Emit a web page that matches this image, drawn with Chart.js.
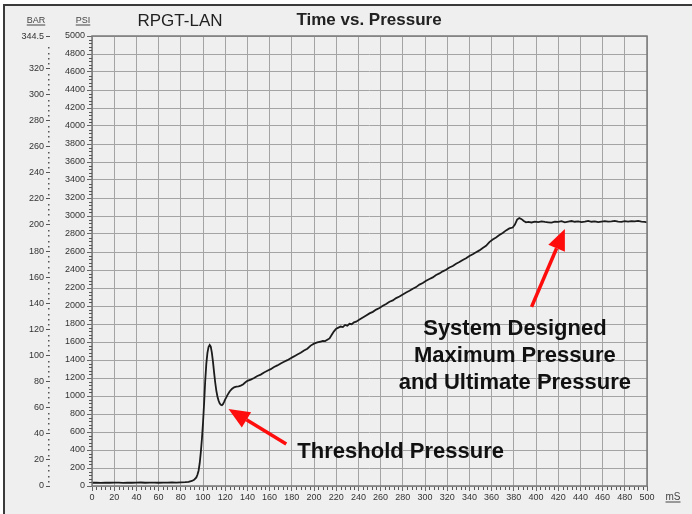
<!DOCTYPE html>
<html>
<head>
<meta charset="UTF-8">
<title>Time vs. Pressure</title>
<script src="https://cdn.jsdelivr.net/npm/chart.js@4/dist/chart.umd.min.js"></script>
<style>
  html, body { margin: 0; padding: 0; background: #ffffff; }
  #wrap { width: 692px; height: 514px; }
</style>
</head>
<body>
<div id="wrap"><canvas id="chart" width="692" height="514"></canvas></div>
<script>
const timeMs = [
  0, 4, 8, 12, 16, 20, 24, 28, 32, 36, 40, 44, 48, 52, 56, 60, 64, 68, 72, 76,
  80, 84, 87, 90, 92, 94, 95, 96, 97, 98, 99, 100, 101, 102, 103, 104, 105, 106, 107, 108,
  109, 110, 111, 112, 113, 114, 115, 116, 117, 118, 119, 120, 121, 122, 124, 126, 128, 130, 132, 134,
  136, 138, 140, 143, 146, 149, 152, 155, 158, 161, 164, 167, 170, 173, 176, 179, 182, 185, 188, 191,
  194, 197, 200, 203, 206, 208, 210, 212, 214, 216, 218, 220, 222, 224, 226, 228, 230, 232, 234, 236,
  238, 241, 244, 247, 250, 253, 256, 259, 262, 265, 268, 271, 274, 277, 280, 283, 286, 289, 292, 295,
  298, 301, 304, 307, 310, 313, 316, 319, 322, 325, 328, 331, 334, 337, 340, 343, 346, 349, 352, 355,
  358, 361, 364, 367, 370, 373, 376, 379, 381, 383, 385, 387, 389, 391, 393, 396, 399, 402, 405, 408,
  411, 414, 417, 420, 423, 426, 429, 432, 435, 438, 441, 444, 447, 450, 453, 456, 459, 462, 465, 468,
  471, 474, 477, 480, 483, 486, 489, 492, 495, 498, 500
];
const pressurePsi = [
  36, 38, 35, 37, 36, 38, 37, 35, 38, 36, 37, 39, 36, 37, 38, 36, 38, 37, 39, 38,
  40, 43, 47, 56, 68, 95, 125, 170, 250, 370, 520, 700, 920, 1170, 1360, 1480, 1545, 1567, 1548, 1480,
  1380, 1260, 1150, 1060, 995, 950, 918, 902, 898, 910, 935, 962, 985, 1010, 1050, 1078, 1096, 1104, 1108, 1115,
  1128, 1150, 1168, 1182, 1200, 1222, 1238, 1262, 1280, 1298, 1322, 1340, 1362, 1380, 1398, 1420, 1440, 1462, 1480, 1505,
  1525, 1560, 1582, 1595, 1605, 1612, 1610, 1625, 1640, 1680, 1718, 1748, 1760, 1772, 1766, 1790, 1782, 1802, 1798, 1818,
  1826, 1850, 1872, 1895, 1918, 1935, 1960, 1978, 2002, 2022, 2048, 2062, 2088, 2105, 2128, 2150, 2170, 2192, 2210, 2238,
  2255, 2280, 2300, 2318, 2345, 2362, 2385, 2402, 2428, 2445, 2470, 2488, 2512, 2530, 2555, 2575, 2598, 2618, 2645, 2668,
  2710, 2738, 2762, 2788, 2812, 2840, 2862, 2872, 2905, 2960, 2978, 2965, 2945, 2930, 2935, 2928, 2938, 2932, 2940, 2934,
  2930, 2926, 2938, 2935, 2942, 2930, 2938, 2944, 2936, 2940, 2933, 2938, 2945, 2936, 2940, 2932, 2938, 2944, 2937, 2940,
  2946, 2938, 2935, 2942, 2938, 2944, 2940, 2946, 2938, 2935, 2928
];

// 軸の設定値
const xRangeMs = [0, 500];
const psiRange = [0, 5000];
const barTicks = [0, 20, 40, 60, 80, 100, 120, 140, 160, 180, 200, 220, 240, 260, 280, 300, 320, 344.5];
const psiPerBar = 14.5038;

// 注記（データ座標）
const thresholdArrow = { from: [175, 467], to: [123, 856] };
const designArrow = { from: [396, 1990], to: [426, 2856] };
const thresholdLabel = { text: "Threshold Pressure", at: [185, 378] };
const designLabel = {
  lines: ["System Designed", "Maximum Pressure", "and Ultimate Pressure"],
  at: [381, 1744],
  lineGap: 27,
};

const FONT = 'Arial, "Liberation Sans", sans-serif';
const TICK_COLOR = "#333";

// 矢印を描く
function drawArrow(ctx, x1, y1, x2, y2) {
  const ang = Math.atan2(y2 - y1, x2 - x1);
  const headLen = 21;
  const headHalf = 9;
  const bx = x2 - headLen * Math.cos(ang);
  const by = y2 - headLen * Math.sin(ang);
  ctx.save();
  ctx.strokeStyle = "#ff0d0d";
  ctx.fillStyle = "#ff0d0d";
  ctx.lineWidth = 3.5;
  ctx.beginPath();
  ctx.moveTo(x1, y1);
  ctx.lineTo(bx, by);
  ctx.stroke();
  ctx.beginPath();
  ctx.moveTo(x2, y2);
  ctx.lineTo(bx + headHalf * Math.sin(ang), by - headHalf * Math.cos(ang));
  ctx.lineTo(bx - headHalf * Math.sin(ang), by + headHalf * Math.cos(ang));
  ctx.closePath();
  ctx.fill();
  ctx.restore();
}

function underlinedText(ctx, text, cx, y, font) {
  ctx.font = font;
  ctx.textAlign = "center";
  ctx.textBaseline = "alphabetic";
  ctx.fillText(text, cx, y);
  const w = ctx.measureText(text).width;
  ctx.fillRect(cx - w / 2, y + 1.5, w, 1);
}

// 背景・枠
const framePlugin = {
  id: "frame",
  beforeDraw(chart) {
    const ctx = chart.ctx;
    ctx.save();
    ctx.fillStyle = "#ffffff";
    ctx.fillRect(0, 0, chart.width, chart.height);
    ctx.fillStyle = "#efefef";
    ctx.fillRect(5, 6, chart.width - 5, chart.height - 6);
    ctx.fillStyle = "#3a3a3a";
    ctx.fillRect(3, 4, 2, chart.height - 4);
    ctx.fillRect(3, 4, chart.width - 3, 2);
    ctx.restore();
  },
  afterDatasetsDraw(chart) {
    const ctx = chart.ctx;
    const a = chart.chartArea;
    const xs = chart.scales.x;
    const ys = chart.scales.y;
    const bs = chart.scales.bar;
    ctx.save();
    ctx.strokeStyle = "#7a7a7a";
    ctx.lineWidth = 1.5;
    ctx.strokeRect(a.left, a.top, a.right - a.left, a.bottom - a.top);

    // 補助目盛
    ctx.fillStyle = "#555";
    for (let v = xRangeMs[0]; v <= xRangeMs[1]; v += 4) {
      if (v % 20 === 0) continue;
      const px = Math.round(xs.getPixelForValue(v));
      ctx.fillRect(px, a.bottom + 1, 1, 3);
    }
    for (let v = psiRange[0]; v <= psiRange[1]; v += 40) {
      if (v % 200 === 0) continue;
      const py = Math.round(ys.getPixelForValue(v));
      ctx.fillRect(a.left - 3, py, 3, 1);
    }
    for (let v = 4; v < 344; v += 4) {
      if (v % 20 === 0) continue;
      const py = Math.round(bs.getPixelForValue(v));
      ctx.fillRect(bs.right - 2, py, 1.5, 1.5);
    }

    // 注記
    const p = (pt) => [xs.getPixelForValue(pt[0]), ys.getPixelForValue(pt[1])];
    let f = p(thresholdArrow.from), t = p(thresholdArrow.to);
    drawArrow(ctx, f[0], f[1], t[0], t[1]);
    f = p(designArrow.from); t = p(designArrow.to);
    drawArrow(ctx, f[0], f[1], t[0], t[1]);

    ctx.fillStyle = "#111";
    ctx.font = "bold 22px " + FONT;
    ctx.textBaseline = "middle";
    ctx.textAlign = "left";
    const tl = p(thresholdLabel.at);
    ctx.fillText(thresholdLabel.text, tl[0], tl[1]);
    ctx.textAlign = "center";
    const dl = p(designLabel.at);
    designLabel.lines.forEach((line, i) => {
      ctx.fillText(line, dl[0], dl[1] + i * designLabel.lineGap);
    });

    // 見出し
    ctx.fillStyle = "#222";
    ctx.textBaseline = "alphabetic";
    ctx.font = "17px " + FONT;
    ctx.fillText("RPGT-LAN", 180, 26);
    ctx.font = "bold 17px " + FONT;
    ctx.fillText("Time vs. Pressure", 369, 25);
    ctx.fillStyle = "#444";
    underlinedText(ctx, "BAR", 36, 23, "9px " + FONT);
    underlinedText(ctx, "PSI", 83, 23, "9px " + FONT);
    underlinedText(ctx, "mS", 673, 500, "10px " + FONT);
    ctx.restore();
  },
};

const ctx = document.getElementById("chart").getContext("2d");
const chart = new Chart(ctx, {
  type: "line",
  data: {
    datasets: [
      {
        label: "Pressure",
        data: timeMs.map((t, i) => ({ x: t, y: pressurePsi[i] })),
        borderColor: "#1c1c1c",
        borderWidth: 1.8,
        pointRadius: 0,
        tension: 0,
        fill: false,
      },
    ],
  },
  options: {
    responsive: false,
    animation: false,
    devicePixelRatio: 1,
    layout: {
      padding: { top: 36, right: 45, bottom: 0, left: 0 },
    },
    plugins: {
      legend: { display: false },
      tooltip: { enabled: false },
    },
    scales: {
      x: {
        type: "linear",
        min: xRangeMs[0],
        max: xRangeMs[1],
        afterFit: (s) => { s.height = 28; },
        ticks: {
          stepSize: 20,
          autoSkip: false,
          maxRotation: 0,
          padding: 1,
          color: TICK_COLOR,
          font: { family: FONT, size: 9 },
          callback: (v) => String(v),
        },
        grid: { color: "#a4a4a4", lineWidth: 1, tickLength: 5, tickColor: "#666" },
        border: { display: false },
      },
      y: {
        type: "linear",
        position: "left",
        weight: 0,
        min: psiRange[0],
        max: psiRange[1],
        afterFit: (s) => { s.width = 42; },
        ticks: {
          stepSize: 200,
          autoSkip: false,
          padding: 2,
          color: TICK_COLOR,
          font: { family: FONT, size: 9 },
          callback: (v) => String(v),
        },
        grid: { color: "#a4a4a4", lineWidth: 1, tickLength: 5, tickColor: "#666" },
        border: { display: false },
      },
      bar: {
        type: "linear",
        position: "left",
        weight: 1,
        min: 0,
        max: psiRange[1] / psiPerBar,
        afterFit: (s) => { s.width = 50; },
        afterBuildTicks: (s) => {
          s.ticks = barTicks.map((v) => ({ value: v }));
        },
        ticks: {
          autoSkip: false,
          padding: 2,
          color: TICK_COLOR,
          font: { family: FONT, size: 9 },
          callback: (v) => String(v),
        },
        grid: { drawOnChartArea: false, tickLength: 4, tickColor: "#555" },
        border: { display: false },
      },
    },
  },
  plugins: [framePlugin],
});
</script>
</body>
</html>
